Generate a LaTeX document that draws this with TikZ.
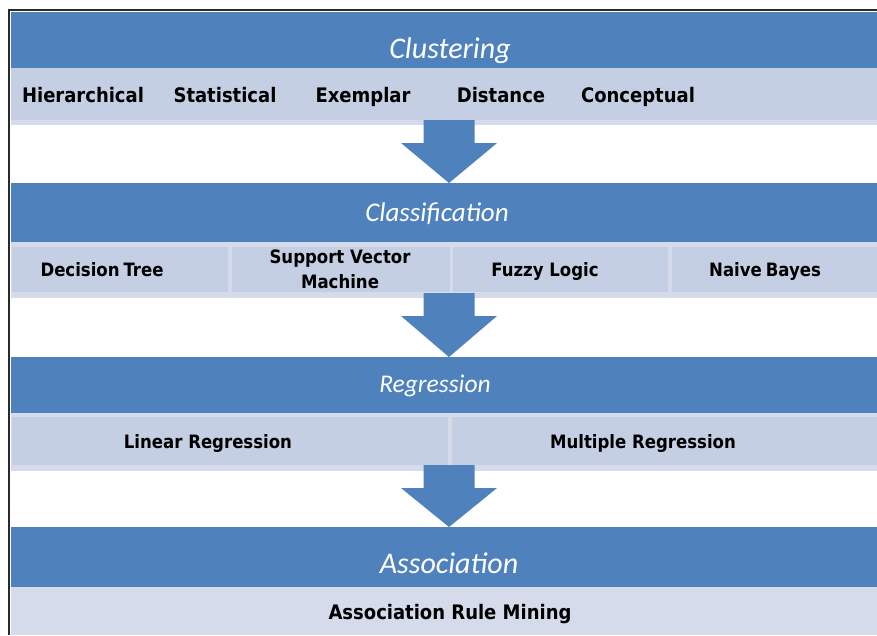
\documentclass[tikz,border=0pt]{standalone}
\usepackage{fontspec}
\setmainfont{DejaVu Sans Condensed}
\newfontfamily\titlefont{Carlito}
\usetikzlibrary{calc}
\definecolor{hdrblue}{HTML}{4F81BD}
\definecolor{cellblue}{HTML}{C5CFE3}
\definecolor{bandblue}{HTML}{D5DBEB}
\definecolor{framegray}{HTML}{2A2A2A}
\tikzset{
  header/.style={fill=hdrblue, draw=none},
  band/.style={fill=bandblue, draw=none},
  cell/.style={fill=cellblue, draw=none},
  title/.style={text=white, inner sep=0pt, anchor=base},
  label/.style={text=black, font=\bfseries\fontsize{20}{22}\selectfont, align=center, inner sep=0pt, anchor=base},
  smalllabel/.style={label, font=\bfseries\fontsize{18.4}{20}\selectfont},
  blockarrow/.style={fill=hdrblue, draw=none}
}
\begin{document}
\begin{tikzpicture}[x=1pt, y=-1pt]
\useasboundingbox (0,0) rectangle (877,635);
\fill[white] (0,0) rectangle (877,635);

% ---- Clustering ----
\fill[header] (11,12) rectangle (877,68);
\fill[band] (11,68) rectangle (877,125);
\fill[cell] (11,68) rectangle (877,120);
\node[title, font=\titlefont\itshape\fontsize{30}{32}\selectfont] (clu) at (450,58) {Clustering};
\node[label] (hier) at (83,102) {Hierarchical};
\node[label] (stat) at (225,102) {Statistical};
\node[label] (exem) at (363,102) {Exemplar};
\node[label] (dist) at (501,102) {Distance};
\node[label] (conc) at (638,102) {Conceptual};

% ---- Classification ----
\fill[header] (11,183) rectangle (877,242);
\fill[band] (11,242) rectangle (877,298);
\fill[cell] (12,247) rectangle (228,292);
\fill[cell] (232,247) rectangle (450,292);
\fill[cell] (453,247) rectangle (668,292);
\fill[cell] (672,247) rectangle (877,292);
\node[title, font=\titlefont\itshape\fontsize{27}{29}\selectfont] (cla) at (437,221) {Classification};
\node[smalllabel] (dtree) at (102,276) {Decision\kern-0.1em{} Tree};
\node[smalllabel, anchor=center, font=\bfseries\fontsize{18.4}{25}\selectfont] (svm) at (340,269) {Support Vector\\Machine};
\node[smalllabel] (fuzzy) at (545,276) {Fuzzy Logic};
\node[smalllabel] (bayes) at (765,276) {Naive\kern-0.1em{} Bayes};

% ---- Regression ----
\fill[header] (11,357) rectangle (877,413);
\fill[band] (11,413) rectangle (877,471);
\fill[cell] (12,417) rectangle (448,465);
\fill[cell] (452,417) rectangle (877,465);
\node[title, font=\titlefont\itshape\fontsize{25.5}{27}\selectfont] (reg) at (435,392) {Regression};
\node[smalllabel] (linreg) at (208,448) {Linear Regression};
\node[smalllabel] (mulreg) at (643,448) {Multiple Regression};

% ---- Association ----
\fill[header] (11,527) rectangle (877,587);
\fill[band] (11,587) rectangle (877,635);
\node[title, font=\titlefont\itshape\fontsize{30}{32}\selectfont] (ass) at (449,573) {Association};
\node[label] (arm) at (450,619) {Association Rule Mining};

% ---- block arrows between the stages ----
\coordinate (a1) at (449,120);
\coordinate (a2) at (449,293);
\coordinate (a3) at (449,465);
\foreach \a/\t in {a1/183, a2/357, a3/527}{
  \fill[blockarrow] ($(\a)+(-25.5,0)$) -- ++(0,23) -- ++(-22.5,0)
     -- (449,\t) -- ($(\a)+(48,23)$) -- ++(-22.5,0) -- ($(\a)+(25.5,0)$) -- cycle;
}

% ---- frame ----
\draw[framegray, line width=2pt] (9,635) -- (9,10) -- (877,10);
\end{tikzpicture}
\end{document}
